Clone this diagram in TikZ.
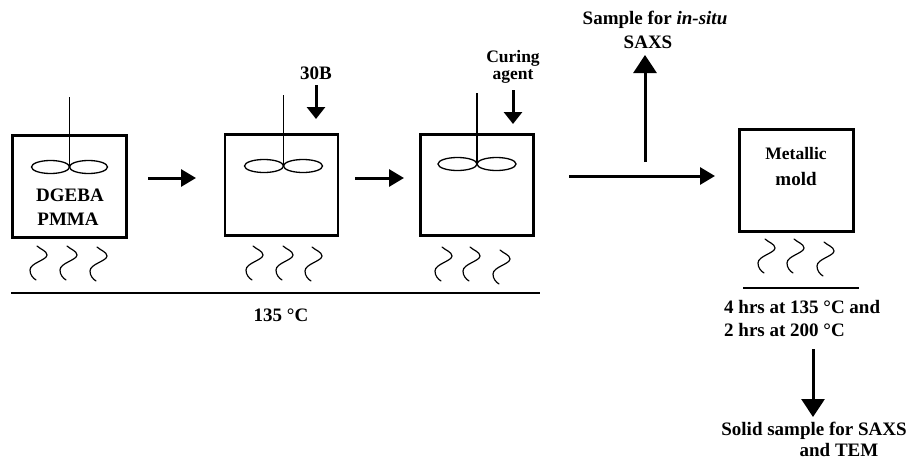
\documentclass[tikz,border=0pt]{standalone}
\usepackage{fontspec}
\setmainfont{Liberation Serif}
\usetikzlibrary{arrows.meta,shapes.geometric}
\tikzset{
 vessel/.style={draw,line width=#1,anchor=north west,inner sep=0pt},
 flow/.style={line width=3pt,-{Triangle[length=15pt,width=17pt]}},
 dropflow/.style={line width=3pt,-{Triangle[length=12pt,width=18pt]}},
 bigflow/.style={line width=3pt,-{Triangle[length=18pt,width=23pt]}},
 lab/.style={font=\fontsize{19}{22}\selectfont\bfseries,align=center,inner sep=0pt},
 smalllab/.style={lab,font=\fontsize{17.5}{20}\selectfont\bfseries},
 heat/.style={line width=1.2pt,line cap=round},
 shaft/.style={line width=1.3pt},
 blade/.style={draw,line width=1.3pt,ellipse,inner sep=0pt,minimum height=13pt},
 rule/.style={line width=1.2pt}
}
\newcommand{\wave}[2]{\draw[heat,shift={(#1,#2)}] (0,0) .. controls (3,-3) and (10,-5) .. (10,-9) .. controls (10,-14) and (-7,-17) .. (-7,-24) .. controls (-7,-29) and (-4,-32) .. (-1,-34);}
\newcommand{\stirrer}[4]{%
 \node[blade,minimum width=#4] at (#1-#4/2,-#3) {};
 \node[blade,minimum width=#4] at (#1+#4/2,-#3) {};
 \draw[shaft] (#1,-#2) -- (#1,-#3);}
\begin{document}
\begin{tikzpicture}[x=1pt,y=1pt]
\useasboundingbox (0,0) rectangle (912,-460);
\fill[white] (0,0) rectangle (912,-460);
\node[vessel=3pt,minimum width=113.5pt,minimum height=102pt] (v1) at (11,-133.5) {};
\node[vessel=2.2pt,minimum width=113pt,minimum height=101pt] (v2) at (224,-133.3) {};
\node[vessel=3pt,minimum width=112.5pt,minimum height=100.5pt] (v3) at (419,-133) {};
\node[vessel=2.5pt,minimum width=114pt,minimum height=102pt] (v4) at (738.3,-128.3) {};
\stirrer{69.5}{97}{167}{38}
\stirrer{283.5}{95}{166}{39}
\stirrer{477}{93}{164}{39}
\node[lab] (t1) at (70,-195) {DGEBA};
\node[lab] (t2) at (68,-219) {PMMA};
\node[lab] (t3) at (316,-73) {30B};
\node[smalllab] (t4) at (513,-58) {Curing};
\node[smalllab] (t4b) at (513,-77) {agent};
\node[lab] (t5) at (281,-315) {135 °C};
\node[lab] (t6) at (655,-20) {Sample for \textit{in-situ}};
\node[lab] (t7) at (648,-42) {SAXS};
\node[smalllab] (t8) at (796,-154) {Metallic};
\node[lab] (t9) at (796,-179) {mold};
\node[lab,anchor=west] (t10) at (724,-307) {4 hrs at 135 °C and};
\node[lab,anchor=west] (t11) at (724,-330) {2 hrs at 200 °C};
\node[lab] (t12) at (814,-431) {Solid sample for SAXS};
\node[lab] (t13) at (839,-450) {and TEM};
\draw[flow] (148,-178) -- (196,-178);
\draw[flow] (355,-178) -- (404,-178);
\draw[flow] (569,-176) -- (715,-176);
\draw[dropflow] (316,-85) -- (316,-119);
\draw[dropflow] (513,-90) -- (513,-124);
\draw[bigflow] (645,-162) -- (645,-55);
\draw[bigflow] (813,-349) -- (813,-417);
\wave{37}{-246}\wave{67}{-246}\wave{97}{-247}
\wave{253}{-246}\wave{283}{-246}\wave{312}{-247}
\wave{442}{-247}\wave{470}{-247}\wave{500}{-250}
\wave{765}{-239}\wave{794}{-239}\wave{824}{-242}
\coordinate (a) at (11,-293); \coordinate (b) at (540,-293);
\draw[rule] (a) -- (b);
\coordinate (c) at (743,-288); \coordinate (d) at (859,-288);
\draw[rule] (c) -- (d);
\end{tikzpicture}
\end{document}
